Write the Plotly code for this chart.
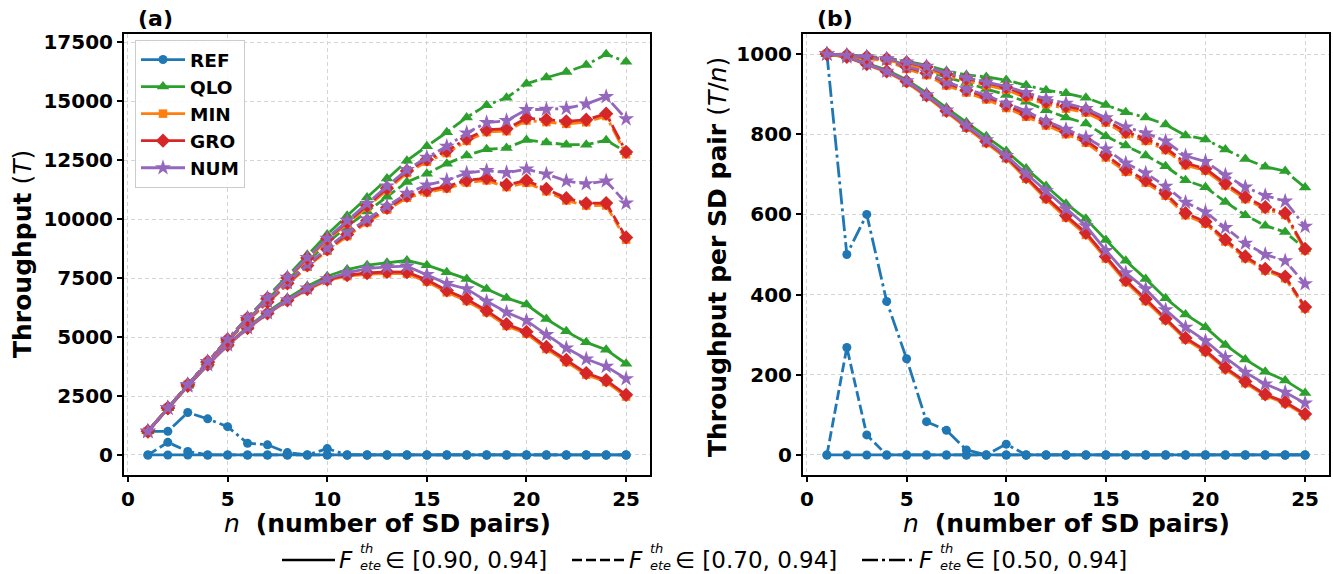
import plotly.graph_objects as go

# ---------------- data ----------------
N = [1, 2, 3, 4, 5, 6, 7, 8, 9, 10, 11, 12, 13, 14, 15, 16, 17, 18, 19, 20, 21, 22, 23, 24, 25]

METHODS = ["REF", "QLO", "MIN", "GRO", "NUM"]
RANGE_LABELS = ["[0.90, 0.94]", "[0.70, 0.94]", "[0.50, 0.94]"]

# Throughput T for F_ete^th in [0.90, 0.94]
REF_90 = [0, 0, 0, 0, 0, 0, 0, 0, 0, 0, 0, 0, 0, 0, 0, 0, 0, 0, 0, 0, 0, 0, 0, 0, 0]
QLO_90 = [1000, 1988, 2931, 3840, 4680, 5418, 6062, 6640, 7155, 7580, 7863, 8047, 8146, 8245, 8047,
          7750, 7466, 7040, 6658, 6375, 5766, 5241, 4774, 4463, 3868]
MIN_90 = [1000, 1984, 2919, 3820, 4645, 5364, 5985, 6528, 7002, 7400, 7579, 7656, 7696, 7686, 7350,
          6896, 6528, 6048, 5472, 5140, 4494, 3938, 3404, 3096, 2475]
GRO_90 = [1000, 1986, 2925, 3828, 4660, 5382, 6006, 6560, 7038, 7440, 7623, 7716, 7761, 7756, 7425,
          6976, 6613, 6120, 5548, 5220, 4578, 4026, 3473, 3168, 2550]
NUM_90 = [1000, 1986, 2925, 3828, 4665, 5388, 6020, 6576, 7074, 7466, 7721, 7905, 7976, 8004, 7650,
          7267, 7040, 6516, 6049, 5695, 5100, 4533, 4066, 3754, 3230]

# Throughput T for F_ete^th in [0.70, 0.94]
REF_70 = [0, 536, 150, 0, 0, 0, 0, 0, 0, 0, 0, 0, 0, 0, 0, 0, 0, 0, 0, 0, 0, 0, 0, 0, 0]
QLO_70 = [1000, 1994, 2979, 3952, 4860, 5748, 6594, 7424, 8217, 8980, 9691, 10320, 10946, 11578, 11925,
          12352, 12699, 12960, 13015, 13360, 13251, 13156, 13156, 13344, 12850]
MIN_70 = [1000, 1988, 2966, 3932, 4815, 5685, 6450, 7232, 7980, 8655, 9280, 9860, 10400, 10905, 11130,
          11300, 11550, 11640, 11360, 11540, 11180, 10790, 10575, 10580, 9130]
GRO_70 = [1000, 1992, 2976, 3948, 4840, 5718, 6489, 7280, 8037, 8720, 9350, 9936, 10478, 10990, 11220,
          11392, 11645, 11736, 11457, 11640, 11277, 10890, 10672, 10680, 9225]
NUM_70 = [1000, 1992, 2976, 3948, 4845, 5730, 6510, 7304, 8073, 8770, 9438, 9996, 10556, 11088, 11445,
          11648, 11951, 12060, 11970, 12120, 11907, 11616, 11500, 11616, 10675]

# Throughput T for F_ete^th in [0.50, 0.94]
REF_50 = [1000, 1000, 1800, 1532, 1200, 498, 430, 100, 0, 270, 0, 0, 0, 0, 0, 0, 0, 0, 0, 0, 0, 0, 0, 0, 0]
QLO_50 = [1000, 1996, 2982, 3960, 4910, 5832, 6706, 7584, 8487, 9350, 10142, 10920, 11726, 12474, 13095,
          13680, 14314, 14832, 15143, 15740, 16002, 16236, 16537, 16992, 16675]
MIN_50 = [1000, 1992, 2973, 3940, 4875, 5782, 6615, 7470, 8300, 9110, 9800, 10500, 11230, 11955, 12435,
          12800, 13315, 13690, 13730, 14180, 14115, 14040, 14110, 14370, 12750]
GRO_50 = [1000, 1994, 2979, 3952, 4895, 5808, 6650, 7512, 8352, 9170, 9867, 10572, 11310, 12040, 12525,
          12896, 13413, 13788, 13832, 14280, 14217, 14146, 14214, 14472, 12850]
NUM_50 = [1000, 1994, 2979, 3952, 4900, 5814, 6664, 7528, 8370, 9190, 9944, 10656, 11401, 12096, 12615,
          13088, 13651, 14094, 14174, 14640, 14658, 14696, 14881, 15192, 14250]

X_TICKS = [0, 5, 10, 15, 20, 25]
YA_TICKS = [0, 2500, 5000, 7500, 10000, 12500, 15000, 17500]
YB_TICKS = [0, 200, 400, 600, 800, 1000]

# ---------------- styling ----------------
W, H = 1333, 574
FONT = "DejaVu Sans"
COLORS = {"REF": "#1f77b4", "QLO": "#2ca02c", "MIN": "#ff7f0e", "GRO": "#d62728", "NUM": "#9467bd"}
SYMBOLS = {"REF": "circle", "QLO": "triangle-up", "MIN": "square", "GRO": "diamond", "NUM": "star"}
MSIZE = {"REF": 9, "QLO": 11, "MIN": 8.5, "GRO": 11, "NUM": 12}
DASHES = ["solid", "10px,4px", "16px,4px,3px,4px"]

SERIES = {
    "REF": [REF_90, REF_70, REF_50],
    "QLO": [QLO_90, QLO_70, QLO_50],
    "MIN": [MIN_90, MIN_70, MIN_50],
    "GRO": [GRO_90, GRO_70, GRO_50],
    "NUM": [NUM_90, NUM_70, NUM_50],
}


def fx(px):
    return px / W


def fy(py):
    return 1 - py / H


fig = go.Figure()
for ri, dash in enumerate(DASHES):
    for m in METHODS:
        T = SERIES[m][ri]
        common = dict(
            mode="lines+markers",
            line=dict(color=COLORS[m], width=2.8, dash=dash),
            marker=dict(symbol=SYMBOLS[m], size=MSIZE[m], color=COLORS[m], line=dict(width=0)),
            name=m,
            legendgroup=m,
        )
        fig.add_trace(go.Scatter(x=N, y=T, xaxis="x", yaxis="y", showlegend=(ri == 0), **common))
        fig.add_trace(go.Scatter(x=N, y=[t / n for t, n in zip(T, N)], xaxis="x2", yaxis="y2",
                                 showlegend=False, **common))

tickfont = dict(family=FONT, size=20, color="black", weight="bold")
axis_common = dict(
    showline=True, linecolor="black", linewidth=2, mirror=True,
    ticks="outside", ticklen=5, tickwidth=1.5, tickcolor="black",
    showgrid=True, gridcolor="#d4d4d4", gridwidth=1, griddash="4px,3px",
    zeroline=False, tickfont=tickfont, automargin=False,
)

y_dom = [fy(475), fy(34)]
fig.update_layout(
    width=W, height=H, autosize=False,
    margin=dict(l=0, r=0, t=0, b=0),
    paper_bgcolor="white", plot_bgcolor="white",
    xaxis=dict(domain=[fx(124), fx(650)], range=[-0.2, 26.2], tickvals=X_TICKS,
               ticktext=[str(v) for v in X_TICKS], anchor="y", **axis_common),
    yaxis=dict(domain=y_dom, range=[-850, 17850], tickvals=YA_TICKS,
               ticktext=[str(v) for v in YA_TICKS], anchor="x", **axis_common),
    xaxis2=dict(domain=[fx(803), fx(1329)], range=[-0.2, 26.2], tickvals=X_TICKS,
                ticktext=[str(v) for v in X_TICKS], anchor="y2", **axis_common),
    yaxis2=dict(domain=y_dom, range=[-50, 1050], tickvals=YB_TICKS,
                ticktext=[str(v) for v in YB_TICKS], anchor="x2", **axis_common),
    legend=dict(
        x=fx(135), y=fy(40), xanchor="left", yanchor="top",
        bgcolor="rgba(255,255,255,0.85)", bordercolor="#cccccc", borderwidth=1,
        font=dict(family=FONT, size=18.5, color="black", weight="bold"),
        itemwidth=44, tracegroupgap=0,
    ),
    showlegend=True,
)

ann = []
title_font = dict(family=FONT, size=25, color="black")
# panel labels
ann.append(dict(text="<b>(a)</b>", x=fx(136), y=fy(19), xref="paper", yref="paper",
                xanchor="left", yanchor="middle", showarrow=False,
                font=dict(family=FONT, size=22, color="black")))
ann.append(dict(text="<b>(b)</b>", x=fx(815), y=fy(19), xref="paper", yref="paper",
                xanchor="left", yanchor="middle", showarrow=False,
                font=dict(family=FONT, size=22, color="black")))
# axis titles
xt = "<i>n</i>  <b>(number of SD pairs)</b>"
ann.append(dict(text=xt, x=fx(387), y=fy(523), xref="paper", yref="paper", xanchor="center",
                yanchor="middle", showarrow=False, font=title_font))
ann.append(dict(text=xt, x=fx(1066), y=fy(523), xref="paper", yref="paper", xanchor="center",
                yanchor="middle", showarrow=False, font=title_font))
ann.append(dict(text="<b>Throughput</b> (<i>T</i>)", x=fx(23), y=fy(254), xref="paper", yref="paper",
                xanchor="center", yanchor="middle", textangle=-90, showarrow=False, font=title_font))
ann.append(dict(text="<b>Throughput per SD pair</b> (<i>T</i>/<i>n</i>)", x=fx(717), y=fy(257),
                xref="paper", yref="paper", xanchor="center", yanchor="middle", textangle=-90,
                showarrow=False, font=title_font))

# bottom legend for the fidelity ranges
shapes = []
LEG_X0 = [282, 572, 862]
for k, (dash, lab) in enumerate(zip(DASHES, RANGE_LABELS)):
    x0 = LEG_X0[k]
    shapes.append(dict(type="line", xref="paper", yref="paper", x0=fx(x0), x1=fx(x0 + 53),
                       y0=fy(560), y1=fy(560), line=dict(color="black", width=2.5, dash=dash)))
    ann.append(dict(text="<i>F</i>", x=fx(x0 + 56), y=fy(560), xref="paper", yref="paper",
                    xanchor="left", yanchor="middle", showarrow=False, borderpad=0,
                    font=dict(family=FONT, size=23, color="black")))
    ann.append(dict(text="<i>th</i><br><i>ete</i>", x=fx(x0 + 77), y=fy(557), xref="paper",
                    yref="paper", xanchor="left", yanchor="middle", align="left", showarrow=False,
                    borderpad=0, font=dict(family=FONT, size=13, color="black")))
    ann.append(dict(text="\u2208 " + lab, x=fx(x0 + 102), y=fy(560), xref="paper", yref="paper",
                    xanchor="left", yanchor="middle", showarrow=False, borderpad=0,
                    font=dict(family=FONT, size=23, color="black")))

fig.update_layout(annotations=ann, shapes=shapes)
fig.write_html("out.html")
